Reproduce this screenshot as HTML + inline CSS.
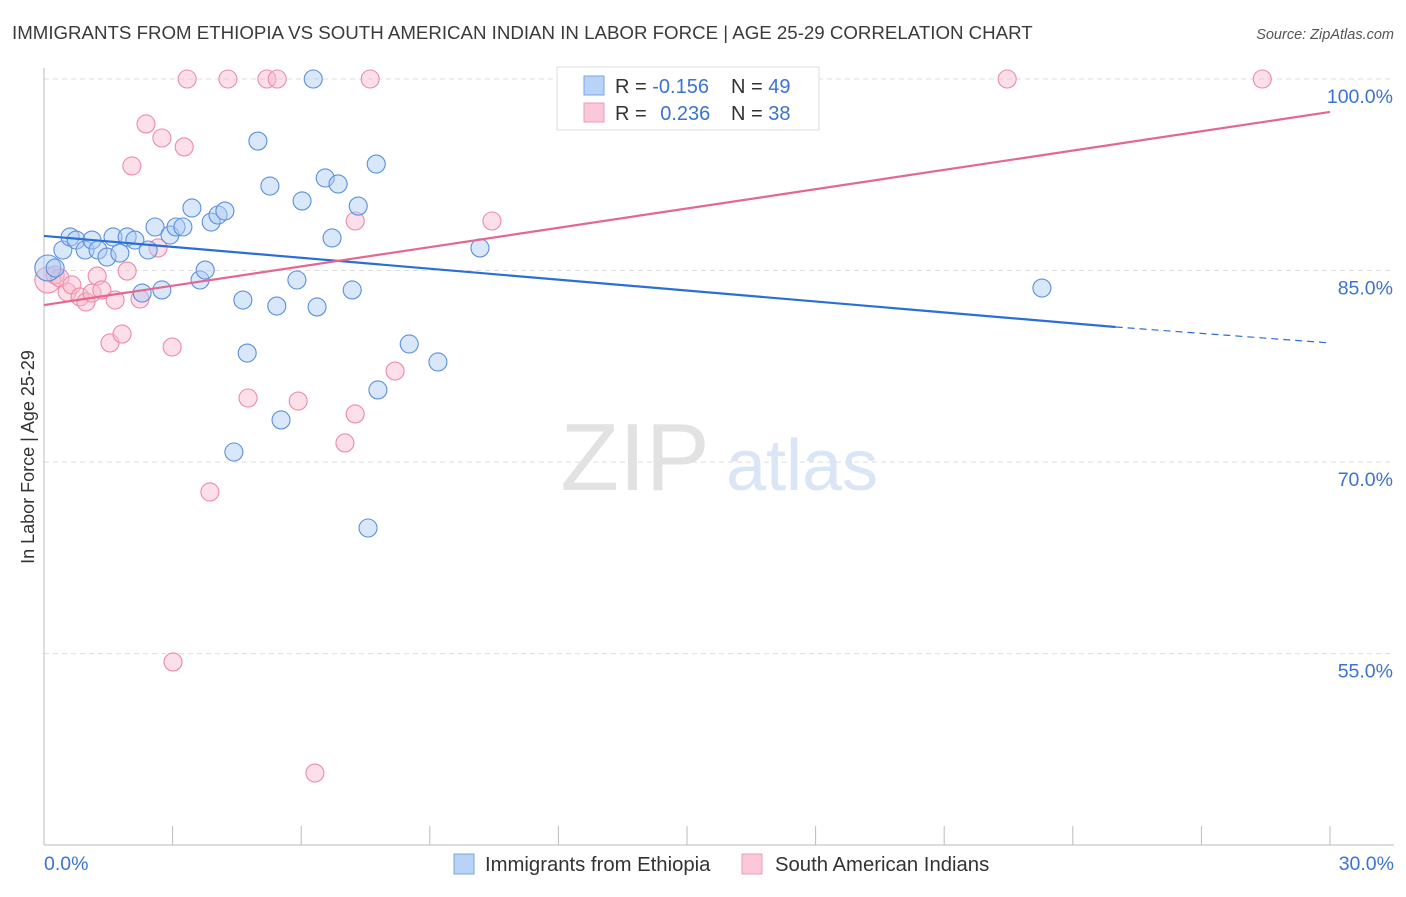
<!DOCTYPE html>
<html><head><meta charset="utf-8"><style>
body{margin:0;background:#fff;font-family:"Liberation Sans",sans-serif;}
svg text{font-family:"Liberation Sans",sans-serif;}
</style></head><body>
<svg id="chart" width="1406" height="892" xmlns="http://www.w3.org/2000/svg">
<text x="12" y="39" font-size="18.7" fill="#3a3a3a">IMMIGRANTS FROM ETHIOPIA VS SOUTH AMERICAN INDIAN IN LABOR FORCE | AGE 25-29 CORRELATION CHART</text>
<text x="1394" y="39" font-size="14.5" font-style="italic" fill="#555" text-anchor="end">Source: ZipAtlas.com</text>
<g id="grid"></g>
<g id="axes"></g>
<g>
<text x="635" y="490" font-size="96" font-family="Liberation Serif" fill="#e2e2e2" text-anchor="middle">ZIP</text>
<text x="802" y="490" font-size="72" fill="#dae5f6" text-anchor="middle">atlas</text>
</g>
<g id="pts"></g>
<g id="lines"></g>
<text transform="translate(34,457) rotate(-90)" font-size="18" fill="#333" text-anchor="middle">In Labor Force | Age 25-29</text>
<g>
<rect x="557" y="67" width="262" height="63" fill="#fff" stroke="#ddd"/>
<rect x="584" y="76" width="20" height="19" fill="#b8d3f5" stroke="#7aa6e6"/>
<rect x="584" y="103" width="20" height="19" fill="#fac8d6" stroke="#f09ab4"/>
<text x="615" y="93" font-size="20" fill="#333">R = <tspan fill="#3b73d1">-0.156</tspan></text>
<text x="731" y="93" font-size="20" fill="#333">N = <tspan fill="#3b73d1">49</tspan></text>
<text x="615" y="120" font-size="20" fill="#333">R = <tspan fill="#3b73d1" dx="8">0.236</tspan></text>
<text x="731" y="120" font-size="20" fill="#333">N = <tspan fill="#3b73d1">38</tspan></text>
</g>
<g>
<rect x="454" y="854" width="20" height="20" fill="#b8d3f5" stroke="#7aa6e6"/>
<text x="485" y="871" font-size="20.3" fill="#333">Immigrants from Ethiopia</text>
<rect x="742" y="854" width="20" height="20" fill="#fac8d6" stroke="#f09ab4"/>
<text x="775" y="871" font-size="20.3" fill="#333">South American Indians</text>
</g>
</svg>
<script>
const yTicks=[100,85,70,55];
const yTickLabels=["100.0%","85.0%","70.0%","55.0%"];
const xTicks=[0,3,6,9,12,15,18,21,24,27,30];
const blueX=[0.09,0.26,0.44,0.61,0.75,0.96,1.12,1.26,1.47,1.61,1.77,1.94,2.12,2.29,2.43,2.59,2.75,2.94,3.08,3.24,3.45,3.64,3.76,3.90,4.06,4.22,4.64,4.74,4.43,4.99,5.27,5.43,5.53,5.90,6.02,6.28,6.37,6.56,6.72,6.86,7.19,7.33,7.56,7.75,7.79,8.52,9.19,10.17,23.28];
const blueY=[85.2,85.2,86.61,87.63,87.39,86.61,87.39,86.61,86.06,87.63,86.37,87.63,87.39,83.24,86.61,88.41,83.48,87.78,88.41,88.41,89.9,84.26,85.04,88.8,89.35,89.66,82.69,78.54,70.79,95.14,91.62,82.22,73.3,84.26,90.45,100,82.15,92.25,87.55,91.78,83.48,90.05,64.84,93.34,75.65,79.25,77.84,86.77,83.63];
const pinkX=[0.09,0.26,0.37,0.54,0.65,0.84,0.98,1.12,1.24,1.35,1.54,1.66,1.82,1.94,2.05,2.24,2.38,2.75,2.99,3.01,3.27,3.34,2.66,3.87,4.29,4.76,5.20,5.44,5.93,6.32,7.02,7.26,7.26,7.61,8.19,10.45,22.47,28.42];
const pinkY=[84.26,84.65,84.42,83.32,83.87,82.93,82.54,83.24,84.57,83.48,79.33,82.69,80.03,84.96,93.19,82.77,96.48,95.38,79.01,54.35,94.68,100,86.77,67.66,100,75.02,100,100,74.78,45.65,71.5,88.88,73.77,100,77.13,88.88,100,100];
const blueTrend=[[0,87.71],[25,80.58],[30,79.33]];
const pinkTrend=[[0,82.3],[30,97.42]];
const NS="http://www.w3.org/2000/svg";
const X=v=>44+v*1286/30, Y=v=>79+(100-v)*12.77;
function mk(t,a,p){const e=document.createElementNS(NS,t);for(const k in a)e.setAttribute(k,a[k]);p.appendChild(e);return e;}
const grid=document.getElementById('grid'),axes=document.getElementById('axes');
yTicks.forEach((t,i)=>{
 const l=mk('line',{x1:44,x2:1394,y1:Y(t),y2:Y(t),stroke:'#ddd','stroke-dasharray':'5,4'},grid);
 
 
 const tx=mk('text',{x:1393,y:Y(t)+24,'font-size':19.5,fill:'#3b73d1','text-anchor':'end'},axes);
 tx.textContent=yTickLabels[i];
 
 
});
mk('line',{x1:44,x2:44,y1:68,y2:845,stroke:'#bbb'},axes);
mk('line',{x1:44,x2:1394,y1:845,y2:845,stroke:'#bbb'},axes);
xTicks.forEach(t=>{const l=mk('line',{x1:X(t),x2:X(t),y1:826,y2:845,stroke:'#bbb'},axes);
 
 });
let a=mk('text',{x:44,y:870,'font-size':19.5,fill:'#3b73d1'},axes);a.textContent='0.0%';

let b=mk('text',{x:1394,y:870,'font-size':19.5,fill:'#3b73d1','text-anchor':'end'},axes);b.textContent='30.0%';

const pts=document.getElementById('pts');
function draw(xs,ys,fill,stroke,name){xs.forEach((x,i)=>{
 const c=mk('circle',{cx:X(x),cy:Y(ys[i]),r:i==0?13:9,fill:fill,'fill-opacity':0.45,stroke:stroke,'stroke-width':1.1},pts);
 
 });}
draw(pinkX,pinkY,'#f9b9cc','#ee8aa9','pink-point');
draw(blueX,blueY,'#aac9f3','#5a8fdf','blue-point');
const lines=document.getElementById('lines');
let bl=mk('line',{x1:X(blueTrend[0][0]),y1:Y(blueTrend[0][1]),x2:X(blueTrend[1][0]),y2:Y(blueTrend[1][1]),stroke:'#2a6fd6','stroke-width':2.2},lines);


let bd=mk('line',{x1:X(blueTrend[1][0]),y1:Y(blueTrend[1][1]),x2:X(blueTrend[2][0]),y2:Y(blueTrend[2][1]),stroke:'#2a6fd6','stroke-width':1.2,'stroke-dasharray':'7,5'},lines);


let pl=mk('line',{x1:X(pinkTrend[0][0]),y1:Y(pinkTrend[0][1]),x2:X(pinkTrend[1][0]),y2:Y(pinkTrend[1][1]),stroke:'#e5668f','stroke-width':2.2},lines);


</script>
</body></html>
